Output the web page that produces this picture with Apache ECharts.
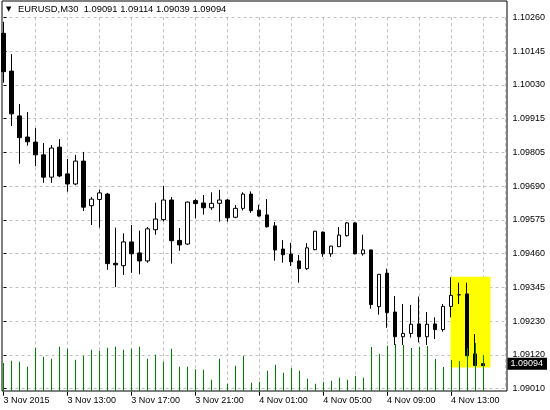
<!DOCTYPE html>
<html>
<head>
<meta charset="utf-8">
<script src="https://cdn.jsdelivr.net/npm/echarts@6/dist/echarts.min.js"></script>
<style>
  html, body { margin: 0; padding: 0; background: #fff; }
  #chart { width: 550px; height: 410px; }
</style>
</head>
<body>
<div id="chart"></div>
<script>
// header of the chart window
const symbolText = "EURUSD,M30";
const headerValues = ["1.09091", "1.09114", "1.09039", "1.09094"];

// 30 minute bars, 3 Nov 2015 09:00 .. 4 Nov 2015 15:00
const opens = [
  1.10206, 1.10079, 1.09928, 1.09857, 1.09840, 1.09797, 1.09722, 1.09823, 1.09733, 1.09699,
  1.09776, 1.09626, 1.09647, 1.09665, 1.09432, 1.09424, 1.09504, 1.09467, 1.09440, 1.09545,
  1.09579, 1.09645, 1.09509, 1.09497, 1.09643, 1.09635, 1.09619, 1.09634, 1.09645, 1.09587,
  1.09617, 1.09665, 1.09611, 1.09595, 1.09558, 1.09480, 1.09463, 1.09440, 1.09414, 1.09478,
  1.09537, 1.09464, 1.09488, 1.09525, 1.09568, 1.09464, 1.09477, 1.09286, 1.09399, 1.09268,
  1.09185, 1.09196, 1.09228, 1.09185, 1.09228, 1.09209, 1.09287, 1.09326, 1.09329, 1.09127,
  1.09094
];
const highs = [
  1.10245, 1.10136, 1.09968, 1.09941, 1.09887, 1.09837, 1.09830, 1.09850, 1.09783, 1.09797,
  1.09807, 1.09655, 1.09680, 1.09669, 1.09552, 1.09533, 1.09561, 1.09542, 1.09554, 1.09636,
  1.09692, 1.09655, 1.09551, 1.09640, 1.09648, 1.09662, 1.09671, 1.09679, 1.09648, 1.09628,
  1.09671, 1.09674, 1.09629, 1.09648, 1.09571, 1.09510, 1.09501, 1.09460, 1.09500, 1.09541,
  1.09539, 1.09491, 1.09554, 1.09571, 1.09571, 1.09528, 1.09478, 1.09396, 1.09414, 1.09322,
  1.09295, 1.09292, 1.09320, 1.09268, 1.09250, 1.09295, 1.09385, 1.09367, 1.09367, 1.09194,
  1.09095
];
const lows = [
  1.10040, 1.09894, 1.09767, 1.09828, 1.09759, 1.09703, 1.09703, 1.09722, 1.09673, 1.09695,
  1.09608, 1.09561, 1.09552, 1.09410, 1.09352, 1.09393, 1.09400, 1.09395, 1.09434, 1.09528,
  1.09573, 1.09431, 1.09474, 1.09494, 1.09583, 1.09596, 1.09612, 1.09572, 1.09572, 1.09584,
  1.09610, 1.09602, 1.09589, 1.09552, 1.09441, 1.09434, 1.09423, 1.09367, 1.09410, 1.09476,
  1.09454, 1.09454, 1.09487, 1.09522, 1.09462, 1.09458, 1.09279, 1.09259, 1.09215, 1.09157,
  1.09157, 1.09182, 1.09166, 1.09157, 1.09177, 1.09202, 1.09250, 1.09295, 1.09120, 1.09087,
  1.09087
];
const closes = [
  1.10077, 1.09935, 1.09855, 1.09841, 1.09797, 1.09722, 1.09820, 1.09726, 1.09699, 1.09776,
  1.09621, 1.09648, 1.09669, 1.09431, 1.09427, 1.09504, 1.09464, 1.09440, 1.09548, 1.09581,
  1.09645, 1.09508, 1.09494, 1.09638, 1.09633, 1.09619, 1.09634, 1.09645, 1.09585, 1.09617,
  1.09665, 1.09609, 1.09591, 1.09555, 1.09477, 1.09461, 1.09437, 1.09414, 1.09484, 1.09540,
  1.09464, 1.09490, 1.09527, 1.09568, 1.09464, 1.09477, 1.09293, 1.09395, 1.09266, 1.09185,
  1.09196, 1.09227, 1.09185, 1.09227, 1.09209, 1.09287, 1.09324, 1.09326, 1.09121, 1.09088,
  1.09088
];
// tick volumes
const volumes = [
  840, 910, 880, 730, 1300, 1030, 970, 1330, 1270, 940,
  1060, 1240, 1210, 1300, 1330, 1240, 1270, 1330, 970, 1090,
  880, 1270, 730, 730, 650, 640, 340, 970, 220, 760,
  1060, 250, 280, 610, 790, 550, 680, 610, 370, 220,
  280, 310, 400, 340, 460, 400, 1320, 1110, 1360, 1410,
  1380, 1290, 1330, 1350, 960, 720, 930, 900, 1290, 1440,
  1080
];
// time labels, one every 8 bars
const timeLabels = [
  "3 Nov 2015", "3 Nov 13:00", "3 Nov 17:00", "3 Nov 21:00",
  "4 Nov 01:00", "4 Nov 05:00", "4 Nov 09:00", "4 Nov 13:00"
];
// price scale labels, bottom to top
const priceLabels = [
  "1.09010", "1.09120", "1.09230", "1.09345", "1.09460", "1.09575",
  "1.09690", "1.09805", "1.09915", "1.10030", "1.10145", "1.10260"
];
const lastPrice = 1.09094;
// highlighted box: bars and prices
const boxBars = [55.94, 60.94];
const boxPrices = [1.09387, 1.09081];

const font = "'Liberation Sans', Arial, sans-serif";
const xMax = 62.8125;
const priceMin = 1.09010;
const priceMax = 1.10260;

const chart = echarts.init(document.getElementById("chart"));
chart.setOption({
  animation: false,
  backgroundColor: "#fff",
  textStyle: { fontFamily: font, fontSize: 9, color: "#000" },
  title: [
    {
      text: "\u25BC",
      left: 6, top: 6, padding: 0,
      textStyle: { fontSize: 7, fontFamily: "DejaVu Sans", fontWeight: "normal", color: "#000" }
    },
    {
      text: symbolText + "  " + headerValues.join(" "),
      left: 18, top: 5, padding: 0,
      textStyle: { fontSize: 9.4, fontFamily: font, fontWeight: "normal", color: "#000" }
    }
  ],
  grid: [
    // frame
    { left: 2, right: 43, top: 1, bottom: 19, show: true, borderColor: "#000", borderWidth: 1 },
    // price area
    { left: 3.5, right: 44, top: 17.3, bottom: 21.3 },
    // volume area
    { left: 3.5, right: 44, bottom: 19, height: 100 }
  ],
  xAxis: [
    { gridIndex: 0, type: "value", show: false },
    {
      gridIndex: 1, type: "value", position: "bottom", min: 0, max: xMax, interval: 4,
      axisLine: { show: false }, axisTick: { show: false }, axisLabel: { show: false },
      splitLine: {
        show: true, showMinLine: false,
        lineStyle: { color: "#c0c0c0", type: [3, 3], width: 1 }
      }
    },
    {
      gridIndex: 1, type: "value", position: "bottom", min: 0, max: xMax, interval: 8, offset: 3,
      axisLine: { show: false },
      axisTick: { show: true, length: 4, lineStyle: { color: "#000" } },
      splitLine: { show: false },
      axisLabel: {
        align: "left", margin: 4, fontSize: 9, color: "#000",
        showMaxLabel: false,
        formatter: v => (v % 8 === 0 && timeLabels[v / 8]) ? timeLabels[v / 8] : ""
      }
    },
    { gridIndex: 2, type: "value", min: 0, max: xMax, show: false }
  ],
  yAxis: [
    { gridIndex: 0, type: "value", show: false },
    { gridIndex: 1, type: "value", min: priceMin, max: priceMax, show: false },
    {
      gridIndex: 1, type: "value", min: 0, max: priceLabels.length - 1, interval: 1,
      position: "right",
      axisLine: { show: false },
      axisTick: { show: true, length: 3, lineStyle: { color: "#000" } },
      axisLabel: { margin: 7, fontSize: 9, color: "#000", formatter: v => priceLabels[v] || "" },
      splitLine: { show: true, lineStyle: { color: "#c0c0c0", type: [3, 3], width: 1 } }
    },
    { gridIndex: 2, type: "value", min: 0, max: 3000, show: false },
    {
      // current price tag
      gridIndex: 1, type: "value", min: priceMin, max: priceMax, position: "right", z: 5,
      axisLine: { show: false },
      axisTick: { show: false },
      splitLine: { show: false },
      axisLabel: {
        customValues: [lastPrice], margin: 2,
        formatter: v => v.toFixed(5),
        color: "#fff", backgroundColor: "#000",
        fontSize: 9, fontFamily: font, padding: [2, 4, 1, 3]
      }
    }
  ],
  series: [
    {
      type: "candlestick",
      xAxisIndex: 1,
      yAxisIndex: 1,
      barWidth: 4,
      data: opens.map((o, i) => [i, o, closes[i], lows[i], highs[i]]),
      itemStyle: {
        color: "#fff", color0: "#000",
        borderColor: "#000", borderColor0: "#000", borderWidth: 1
      },
      markArea: {
        silent: true,
        itemStyle: { color: "#ffff00", opacity: 1 },
        data: [[
          { xAxis: boxBars[0], yAxis: boxPrices[0] },
          { xAxis: boxBars[1], yAxis: boxPrices[1] }
        ]]
      },
      markLine: {
        silent: true,
        symbol: ["none", "none"],
        lineStyle: { color: "#c0c0c0", type: "solid", width: 1 },
        label: { show: false },
        data: [{ yAxis: lastPrice }]
      }
    },
    {
      // volume lines, one pixel wide, snapped to the pixel grid
      type: "custom",
      xAxisIndex: 3,
      yAxisIndex: 3,
      z: 3,
      data: volumes.map((v, i) => [i, v]),
      renderItem: (params, api) => {
        const top = api.coord([api.value(0), api.value(1)]);
        const base = api.coord([api.value(0), 0]);
        return {
          type: "rect",
          shape: { x: Math.floor(top[0]), y: top[1], width: 1, height: base[1] - top[1] },
          style: { fill: "#008000" }
        };
      }
    }
  ]
});
</script>
</body>
</html>
